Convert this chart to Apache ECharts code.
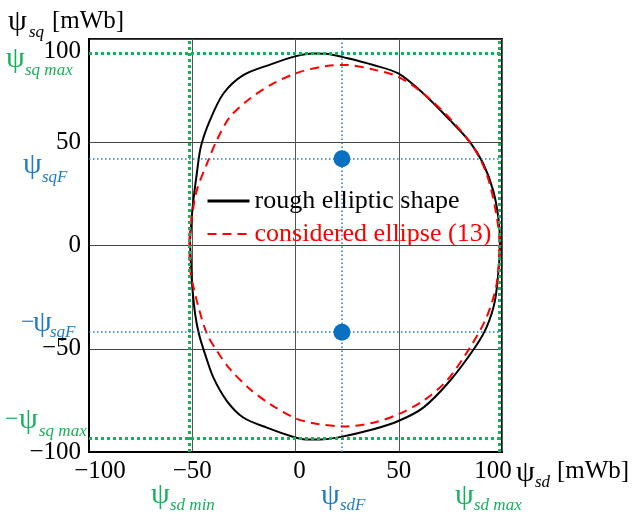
<!DOCTYPE html>
<html>
<head>
<meta charset="utf-8">
<script src="https://cdn.jsdelivr.net/npm/echarts@6/dist/echarts.min.js"></script>
<style>
html, body { margin: 0; padding: 0; background: #fff; }
#chart { width: 637px; height: 513px; }
</style>
</head>
<body>
<div id="chart"></div>
<script>
// values, in mWb
var roughShape = [
    [-51.1, 2.4], [-49.8, 18.6], [-47.8, 34.8], [-45.8, 48], [-41.4, 60.7], [-34.9, 73.6],
    [-25.3, 82.5], [-12.3, 87.6], [-0.2, 91.6], [8.5, 93], [15.1, 92.8], [24.8, 90.8],
    [37.7, 87.4], [49.8, 83.3], [61.9, 73.6], [74.8, 60.7], [84.5, 50.1], [90.9, 39.7],
    [95.7, 26.7], [98.2, 13.7], [99, 2.4], [98.7, -7.3], [96.6, -26.7], [92.5, -39.7],
    [86.9, -49.4], [74.8, -65.5], [61.9, -78.5], [49.8, -85], [37.7, -89], [21.5, -92.8],
    [11.9, -94], [3.8, -93.8], [-0.2, -93], [-13.9, -88.2], [-25.3, -83.3], [-33.3, -75.2],
    [-39.8, -63.9], [-43.8, -52.6], [-46.6, -43.5], [-48.6, -33.2], [-50.2, -17], [-51.1, 2.4]
];
var consideredEllipse = [
    [-51.4, 3], [-50.2, 13.7], [-47.8, 26.7], [-42.2, 41.3], [-38.1, 51], [-31.7, 62.3],
    [-22, 71.2], [-10.7, 78.5], [2.2, 84.1], [15.1, 86.9], [24.8, 87.4], [37.7, 85.2],
    [49.8, 81.7], [61.9, 73.6], [74.8, 61.5], [86.1, 47.7], [92.5, 34.8], [96.6, 18.6],
    [98.7, 2.4], [97.4, -18.6], [92.5, -34.8], [84.5, -49.4], [73.2, -65.5], [61.9, -75.2],
    [49.8, -81.7], [37.7, -85.8], [23.5, -87.6], [10, -86.3], [-0.2, -83.6], [-12.3, -76.8],
    [-22, -69.6], [-31.7, -59.9], [-38.1, -51], [-43, -42.5], [-47.8, -26.7], [-51.1, -10.5],
    [-51.4, 3]
];
var fieldPoints = [[22.5, 42], [22.5, -42]];
var psiSdMin = -51.5, psiSdMax = 98.5, psiSdF = 22.5;
var psiSqMax = 93.3, psiSqF = 42;

var serif = '"Liberation Serif", "Times New Roman", serif';
var green = '#16b25a';
var blue = '#1f7cc7';
var PSI = 30, SUB = 17, MINUS = 24;

function txt(x, y, s, size, color, italic) {
    return {
        type: 'text',
        x: x, y: y,
        style: {
            text: s,
            fill: color,
            font: (italic ? 'italic ' : '') + size + 'px ' + serif,
            verticalAlign: 'middle',
            textVerticalAlign: 'middle'
        }
    };
}

function fmt(v) {
    return v < 0 ? '\u2212' + (-v) : '' + v;
}

var chart = echarts.init(document.getElementById('chart'));
var option = {
    backgroundColor: '#fff',
    animation: false,
    grid: {
        left: 89, right: 135, top: 39, bottom: 61,
        show: true, borderColor: '#111', borderWidth: 2
    },
    legend: {
        orient: 'vertical',
        left: 201, top: 183,
        itemWidth: 42, itemHeight: 14, itemGap: 7,
        itemStyle: { opacity: 0 },
        textStyle: { fontFamily: serif, fontSize: 26, color: '#000' },
        data: [
            { name: 'rough elliptic shape', lineStyle: { width: 3 } },
            { name: 'considered ellipse (13)', textStyle: { color: '#ff0000' } }
        ]
    },
    xAxis: {
        type: 'value',
        min: -100, max: 100, interval: 50,
        axisLine: { onZero: false, lineStyle: { color: '#000', width: 2 } },
        axisTick: { show: false },
        splitLine: { lineStyle: { color: '#555', width: 1 } },
        axisLabel: {
            margin: 7,
            fontFamily: serif, fontSize: 25, color: '#000',
            formatter: function (v) {
                if (v === -100) return '{l|' + fmt(v) + '}';
                if (v === 100) return '{r|' + fmt(v) + '}';
                if (v === 0) return '{z|0}';
                return fmt(v);
            },
            rich: {
                l: { fontFamily: serif, fontSize: 25, color: '#000', padding: [0, 0, 0, 22] },
                r: { fontFamily: serif, fontSize: 25, color: '#000', padding: [0, 18, 0, 0] },
                z: { fontFamily: serif, fontSize: 25, color: '#000', padding: [0, 0, 0, 8] }
            }
        }
    },
    yAxis: {
        type: 'value',
        min: -100, max: 100, interval: 50,
        axisLine: { onZero: false, lineStyle: { color: '#000', width: 2 } },
        axisTick: { show: false },
        splitLine: { lineStyle: { color: '#444', width: 1 } },
        axisLabel: {
            margin: 8,
            fontFamily: serif, fontSize: 25, color: '#000',
            formatter: function (v) {
                if (v === 100) return '{t|' + fmt(v) + '}';
                return fmt(v);
            },
            rich: {
                t: { fontFamily: serif, fontSize: 25, color: '#000', padding: [24, 0, 0, 0] }
            }
        }
    },
    series: [
        {
            name: 'limits',
            type: 'line',
            data: [],
            z: 1,
            markLine: {
                silent: true,
                symbol: 'none',
                label: { show: false },
                data: [
                    { xAxis: psiSdMin, lineStyle: { color: green, width: 3, type: [3, 3] } },
                    { xAxis: psiSdMax, lineStyle: { color: green, width: 3, type: [3, 3] } },
                    { yAxis: psiSqMax, lineStyle: { color: green, width: 3, type: [3, 3] } },
                    { yAxis: -psiSqMax, lineStyle: { color: green, width: 3, type: [3, 3] } },
                    { xAxis: psiSdF, lineStyle: { color: blue, width: 1.5, type: [1.5, 2.5] } },
                    { yAxis: psiSqF, lineStyle: { color: blue, width: 1.5, type: [1.5, 2.5] } },
                    { yAxis: -psiSqF, lineStyle: { color: blue, width: 1.5, type: [1.5, 2.5] } }
                ]
            }
        },
        {
            name: 'rough elliptic shape',
            type: 'line',
            data: roughShape,
            smooth: 0.3,
            symbol: 'none',
            z: 3,
            lineStyle: { color: '#000', width: 2 },
            itemStyle: { color: '#000' }
        },
        {
            name: 'considered ellipse (13)',
            type: 'line',
            data: consideredEllipse,
            smooth: 0.3,
            symbol: 'none',
            z: 4,
            lineStyle: { color: '#ff0000', width: 2, type: [9, 6] },
            itemStyle: { color: '#ff0000' }
        },
        {
            name: 'field',
            type: 'scatter',
            data: fieldPoints,
            symbolSize: 17,
            z: 5,
            itemStyle: { color: '#0a70c2', opacity: 1 }
        }
    ],
    graphic: [
        // y axis name
        txt(8, 22, '\u03c8', PSI, '#000'),
        txt(29, 33, 'sq', SUB, '#000', true),
        txt(52, 21, '[mWb]', 25, '#000'),
        // x axis name
        txt(516, 473, '\u03c8', PSI, '#000'),
        txt(535, 483, 'sd', SUB, '#000', true),
        txt(557, 471, '[mWb]', 25, '#000'),
        // left side labels
        txt(6, 59, '\u03c8', PSI, green),
        txt(25, 71, 'sq max', SUB, green, true),
        txt(23, 165, '\u03c8', PSI, blue),
        txt(42, 178, 'sqF', SUB, blue, true),
        txt(21, 323, '\u2212', MINUS, blue),
        txt(33, 323, '\u03c8', PSI, blue),
        txt(50, 333, 'sqF', SUB, blue, true),
        txt(5, 420, '\u2212', MINUS, green),
        txt(19, 420, '\u03c8', PSI, green),
        txt(39, 432, 'sq max', SUB, green, true),
        // bottom labels
        txt(151, 495, '\u03c8', PSI, green),
        txt(170, 506, 'sd min', SUB, green, true),
        txt(321, 496, '\u03c8', PSI, blue),
        txt(340, 506, 'sdF', SUB, blue, true),
        txt(455, 496, '\u03c8', PSI, green),
        txt(474, 506, 'sd max', SUB, green, true)
    ]
};
chart.setOption(option);
</script>
</body>
</html>
